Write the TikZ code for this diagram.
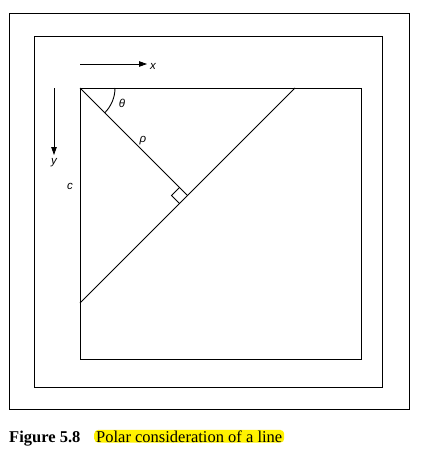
\documentclass[tikz,border=0pt]{standalone}
\usepackage{fontspec}
\setmainfont{Liberation Serif}
\newfontfamily\lblfont{Liberation Sans}
\usetikzlibrary{arrows.meta,calc}
\begin{document}
\begin{tikzpicture}[x=1pt,y=-1pt,
  frame/.style={draw=black,line width=0.8pt},
  geo/.style={draw=black,line width=0.9pt},
  axis/.style={draw=black,line width=0.8pt,-{Triangle[length=8pt,width=5.5pt]}},
  lbl/.style={font=\lblfont\itshape\fontsize{11.5}{12}\selectfont,inner sep=0pt}]
\useasboundingbox (0,0) rectangle (427,458);
% frames
\draw[frame] (9,13) rectangle (409,409);
\draw[frame] (34,36) rectangle (382,387);
\draw[frame] (80,88) rectangle (361,359);
% geometry
\coordinate (O) at (80,88);
\coordinate (A) at (80,303);
\coordinate (B) at (295,88);
\coordinate (F) at (187.5,195.5);
\draw[geo] (A) -- (B);
\draw[geo] (O) -- (F);
\draw[geo] ($(F)+(-8,-8)$) -- ++(-8,8) -- ++(8,8);
\draw[geo] (115,88) arc[start angle=0,end angle=45,radius=35];
% axes
\coordinate (X0) at (80,64);
\coordinate (X1) at (147,64);
\coordinate (Y0) at (54,88);
\coordinate (Y1) at (54,155);
\draw[axis] (X0) -- (X1);
\draw[axis] (Y0) -- (Y1);
\node[lbl] (xl) at (153,66) {x};
\node[lbl] (yl) at (54,163) {y};
\node[lbl] (cl) at (70,186) {c};
\node[lbl] (tl) at (122,103) {θ};
\node[lbl] (rl) at (143,141) {ρ};
% caption
\node[anchor=base west,inner sep=0pt,font=\bfseries\fontsize{16.5}{18}\selectfont] (fig) at (9,442) {Figure 5.8};
\node[anchor=base west,inner xsep=2pt,inner ysep=0.5pt,fill=yellow,rounded corners=4pt,font=\fontsize{16.5}{18}\selectfont] (cap) at (94,442) {Polar consideration of a line};
\end{tikzpicture}
\end{document}
